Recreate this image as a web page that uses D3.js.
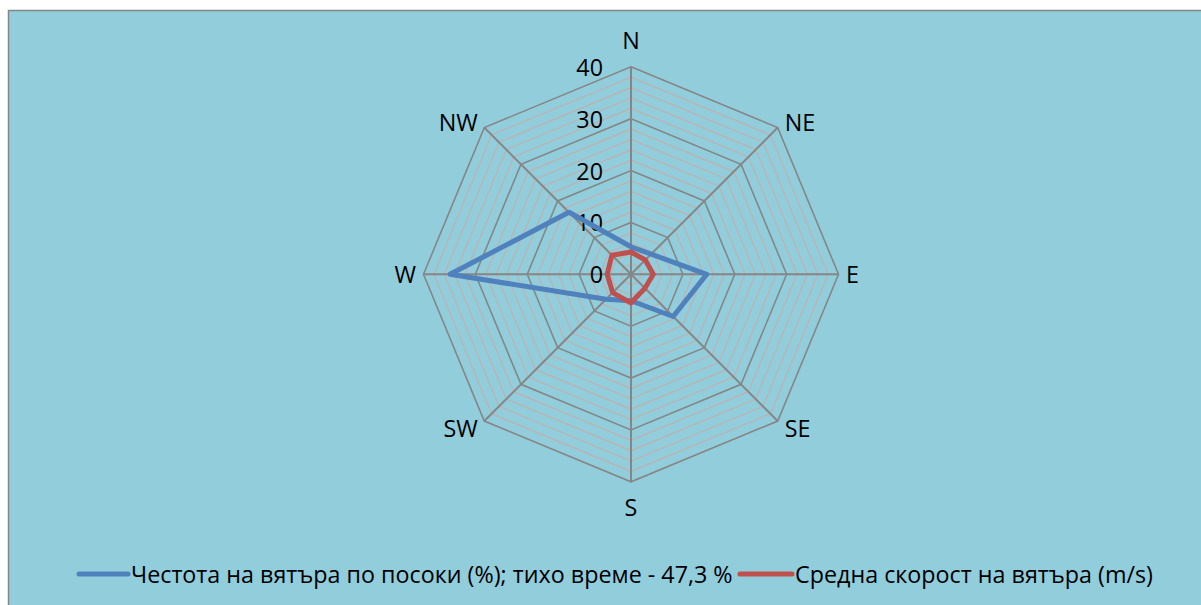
<!DOCTYPE html>
<html>
<head>
<meta charset="utf-8">
<script src="https://cdn.jsdelivr.net/npm/d3@7/dist/d3.min.js"></script>
<style>
  html, body { margin: 0; padding: 0; background: #ffffff; }
  svg { display: block; }
  text { font-family: "Open Sans", "Noto Sans", sans-serif; fill: #000; }
</style>
</head>
<body>
<svg id="chart" width="1201" height="605"></svg>
<script>
// ---- data ----
const directions = ["N", "NE", "E", "SE", "S", "SW", "W", "NW"];
const frequency = [5.3, 5.5, 14.6, 11.5, 5.1, 6.8, 34.9, 16.9];   // %
const speed = [4.3, 3.9, 4.3, 3.8, 5.5, 5.0, 4.6, 5.2];            // m/s
const majorTicks = [0, 10, 20, 30, 40];
const minorStep = 2;
const seriesNames = [
  "Честота на вятъра по посоки (%); тихо време - 47,3 %",
  "Средна скорост на вятъра (m/s)"
];

const cx = 631, cy = 274.3;
const FS = 23.3;
const svg = d3.select("#chart");

// chart background + border
svg.append("rect").attr("x", 8.5).attr("y", 10.5).attr("width", 1220).attr("height", 620)
  .attr("fill", "#92CDDC").attr("stroke", "#868686").attr("stroke-width", 1.5);

const r = d3.scaleLinear().domain([0, 40]).range([0, 207.5]);
const ang = d3.scaleLinear().domain([0, directions.length]).range([0, 2 * Math.PI]);
const pt = (i, v) => [cx + r(v) * Math.sin(ang(i)), cy - r(v) * Math.cos(ang(i))];

const g = svg.append("g");
const ringLine = d3.line();

// minor rings
const minorVals = d3.range(minorStep, 40, minorStep).filter(v => v % 10 !== 0);
g.selectAll(".minor").data(minorVals).join("path")
  .attr("d", v => ringLine(directions.map((d, i) => pt(i, v))) + "Z")
  .attr("fill", "none").attr("stroke", "#BCB2B2").attr("stroke-width", 1.3);

// major rings
g.selectAll(".major").data(majorTicks.filter(v => v > 0)).join("path")
  .attr("d", v => ringLine(directions.map((d, i) => pt(i, v))) + "Z")
  .attr("fill", "none").attr("stroke", "#868686").attr("stroke-width", 1.6);

// spokes
g.selectAll(".spoke").data(directions).join("line")
  .attr("x1", cx).attr("y1", cy)
  .attr("x2", (d, i) => pt(i, 40)[0]).attr("y2", (d, i) => pt(i, 40)[1])
  .attr("stroke", "#868686").attr("stroke-width", 2);

// tick labels
g.selectAll(".tick").data(majorTicks).join("text")
  .attr("x", cx - 28).attr("y", v => cy - r(v))
  .attr("text-anchor", "end").attr("dominant-baseline", "central")
  .attr("font-size", FS).text(v => v);

// direction labels (offset from outer vertex)
const labelOffsets = [[0, -27], [7, -5.5], [7.5, 0], [7, 7], [0, 25], [-6.5, 7], [-7.5, 0], [-6.5, -5.5]];
g.selectAll(".dir").data(directions).join("text")
  .attr("x", (d, i) => pt(i, 40)[0] + labelOffsets[i][0])
  .attr("y", (d, i) => pt(i, 40)[1] + labelOffsets[i][1])
  .attr("text-anchor", (d, i) => i === 0 || i === 4 ? "middle" : (i < 4 ? "start" : "end"))
  .attr("dominant-baseline", "central")
  .attr("font-size", FS).text(d => d);

// series
const colors = ["#4F81BD", "#C0504D"];
[frequency, speed].forEach((vals, k) => {
  g.append("path")
    .attr("d", ringLine(vals.map((v, i) => pt(i, v))) + "Z")
    .attr("fill", "none").attr("stroke", colors[k]).attr("stroke-width", 5)
    .attr("stroke-linejoin", "round");
});

// legend
const legendY = 574;
const legendItems = [{ x: 77, tx: 131 }, { x: 738, tx: 795 }];
legendItems.forEach((it, k) => {
  svg.append("line").attr("x1", it.x + 2).attr("x2", it.tx - 3)
    .attr("y1", legendY).attr("y2", legendY)
    .attr("stroke", colors[k]).attr("stroke-width", 5).attr("stroke-linecap", "round");
  svg.append("text").attr("x", it.tx).attr("y", legendY)
    .attr("dominant-baseline", "central").attr("font-size", FS)
    .text(seriesNames[k]);
});
</script>
</body>
</html>
